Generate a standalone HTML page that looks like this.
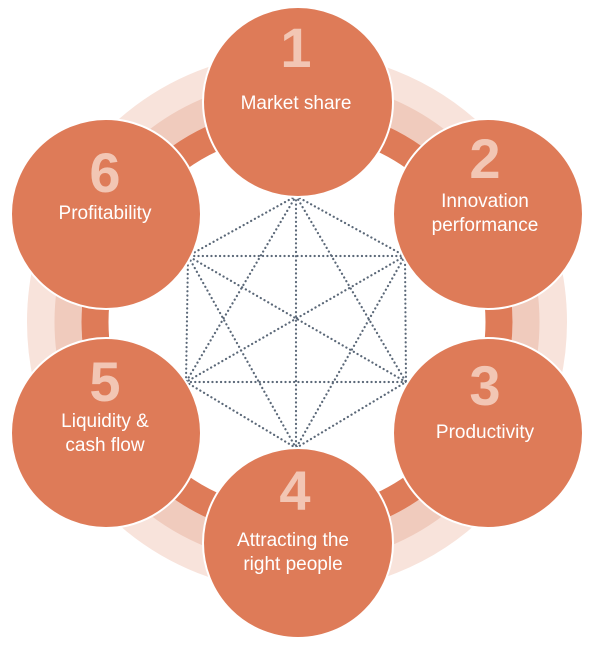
<!DOCTYPE html>
<html><head><meta charset="utf-8"><style>
html,body{margin:0;padding:0;background:#fff;}
svg{display:block;}
.n{font-family:"Liberation Sans",sans-serif;font-weight:bold;font-size:56px;fill:#f2c6b4;text-anchor:middle;}
.t{font-family:"Liberation Sans",sans-serif;font-size:19px;fill:#fff;text-anchor:middle;}
</style></head><body>
<svg width="600" height="645" viewBox="0 0 600 645" xmlns="http://www.w3.org/2000/svg">
<circle cx="297" cy="322" r="256" fill="none" stroke="#f8e3db" stroke-width="28"/>
<circle cx="297" cy="322" r="229" fill="none" stroke="#f0cbbd" stroke-width="27"/>
<circle cx="297" cy="322" r="202" fill="none" stroke="#de7b58" stroke-width="27"/>
<g stroke="#5b6878" stroke-width="2.2" stroke-dasharray="0.1 4.2" fill="none" stroke-linecap="round">
<path d="M296,196 L405,256 L406,382 L296,448 L186,382 L188,256 Z"/>
<path d="M296,196 L406,382 M296,196 L296,448 M296,196 L186,382 M405,256 L296,448 M405,256 L186,382 M405,256 L188,256 M406,382 L186,382 M406,382 L188,256 M296,448 L188,256"/>
</g>
<g fill="#de7b58" stroke="#fff" stroke-width="2">
<circle cx="298" cy="102" r="95"/>
<circle cx="488" cy="214" r="95"/>
<circle cx="488" cy="433" r="95"/>
<circle cx="298" cy="543" r="95"/>
<circle cx="106" cy="433" r="95"/>
<circle cx="106" cy="214" r="95"/>
</g>
<text class="n" x="296" y="67">1</text>
<text class="t" x="296" y="109">Market share</text>
<text class="n" x="485" y="178">2</text>
<text class="t" x="485" y="207">Innovation</text>
<text class="t" x="485" y="231">performance</text>
<text class="n" x="485" y="405">3</text>
<text class="t" x="485" y="438">Productivity</text>
<text class="n" x="295" y="510">4</text>
<text class="t" x="293" y="546">Attracting the</text>
<text class="t" x="293" y="570">right people</text>
<text class="n" x="105" y="401">5</text>
<text class="t" x="105" y="427">Liquidity &amp;</text>
<text class="t" x="105" y="451">cash flow</text>
<text class="n" x="105" y="192">6</text>
<text class="t" x="105" y="219">Profitability</text>
</svg>
</body></html>
